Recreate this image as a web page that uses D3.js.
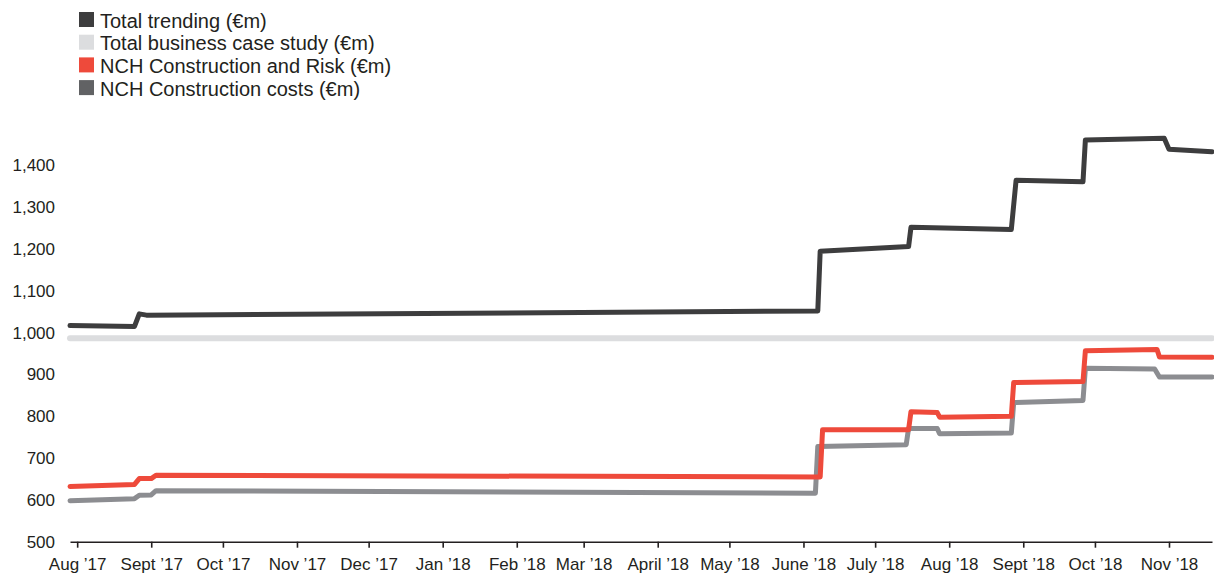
<!DOCTYPE html>
<html>
<head>
<meta charset="utf-8">
<script src="https://cdn.jsdelivr.net/npm/d3@7"></script>
<style>
  body { margin: 0; background: #fff; }
  text { font-family: "Liberation Sans", Arial, Helvetica, sans-serif; fill: #231f20; }
</style>
</head>
<body>
<svg id="chart" width="1214" height="578"></svg>
<script>
// series: [date, value in €m]
const totalTrending = [
    ["2017-07-29", 1017], ["2017-08-25", 1015], ["2017-08-27", 1045], ["2017-08-30", 1042],
    ["2018-06-07", 1052], ["2018-06-08", 1195], ["2018-07-15", 1206], ["2018-07-16", 1252],
    ["2018-08-27", 1247], ["2018-08-29", 1365], ["2018-09-26", 1361], ["2018-09-27", 1461],
    ["2018-10-30", 1465], ["2018-11-01", 1439], ["2018-11-19", 1433]
];
const businessCase = [["2017-07-29", 987], ["2018-11-19", 987]];
const constructionRisk = [
    ["2017-07-29", 632], ["2017-08-25", 637], ["2017-08-27", 651], ["2017-09-01", 651],
    ["2017-09-03", 659], ["2018-06-08", 655], ["2018-06-09", 768], ["2018-07-15", 768],
    ["2018-07-16", 811], ["2018-07-27", 809], ["2018-07-28", 798], ["2018-08-27", 800],
    ["2018-08-28", 881], ["2018-09-26", 883], ["2018-09-27", 957], ["2018-10-27", 960],
    ["2018-10-28", 942], ["2018-11-19", 941]
];
const constructionCosts = [
    ["2017-07-29", 598], ["2017-08-25", 603], ["2017-08-27", 611], ["2017-09-01", 612],
    ["2017-09-03", 622], ["2018-06-06", 616], ["2018-06-07", 728], ["2018-07-14", 732],
    ["2018-07-15", 771], ["2018-07-27", 771], ["2018-07-28", 758], ["2018-08-27", 760],
    ["2018-08-28", 833], ["2018-09-26", 838], ["2018-09-27", 915], ["2018-10-26", 913],
    ["2018-10-28", 894], ["2018-11-19", 894]
];

const tickMonths = ["2017-08-01", "2017-09-01", "2017-10-01", "2017-11-01", "2017-12-01",
    "2018-01-01", "2018-02-01", "2018-03-01", "2018-04-01", "2018-05-01", "2018-06-01",
    "2018-07-01", "2018-08-01", "2018-09-01", "2018-10-01", "2018-11-01"];
const monthLabels = ["Aug ’17", "Sept ’17", "Oct ’17", "Nov ’17", "Dec ’17", "Jan ’18",
    "Feb ’18", "Mar ’18", "April ’18", "May ’18", "June ’18", "July ’18", "Aug ’18",
    "Sept ’18", "Oct ’18", "Nov ’18"];
const yTicks = [500, 600, 700, 800, 900, 1000, 1100, 1200, 1300, 1400];

const legendNames = ["Total trending (€m)", "Total business case study (€m)",
    "NCH Construction and Risk (€m)", "NCH Construction costs (€m)"];
const legendColors = ["#3d3d3e", "#dcdddf", "#ee4a3b", "#616264"];

const parse = d3.timeParse("%Y-%m-%d");
const svg = d3.select("#chart");

const x = d3.scaleTime()
    .domain([parse("2017-07-29"), parse("2018-11-19")])
    .range([70, 1212]);
const y = d3.scaleLinear()
    .domain([500, 1400])
    .range([541.7, 165.5]);

// y labels (no axis line, no ticks)
const leftAxis = d3.axisLeft(y)
    .tickValues(yTicks)
    .tickSize(0)
    .tickPadding(0)
    .tickFormat(d3.format(","));
svg.append("g")
    .attr("transform", "translate(55,0)")
    .call(leftAxis)
    .call(g => g.select(".domain").remove())
    .call(g => g.selectAll("text").attr("font-size", 17).attr("font-family", null).attr("fill", "#231f20"));

// x axis
const bottomAxis = d3.axisBottom(x)
    .tickValues(tickMonths.map(parse))
    .tickSizeInner(6)
    .tickSizeOuter(0)
    .tickPadding(10)
    .tickFormat((d, i) => monthLabels[i]);
const xg = svg.append("g")
    .attr("transform", "translate(0,541.7)")
    .call(bottomAxis);
xg.select(".domain").attr("stroke", "#231f20").attr("stroke-width", 1.6);
xg.selectAll(".tick line").attr("stroke", "#231f20").attr("stroke-width", 1.6);
xg.selectAll("text").attr("font-size", 17).attr("font-family", null).attr("fill", "#231f20");

const lineGen = d3.line()
    .x(d => x(parse(d[0])))
    .y(d => y(d[1]));

const series = [
    { data: businessCase, color: "#dcdddf", width: 6 },
    { data: constructionCosts, color: "#8c8d91", width: 5 },
    { data: constructionRisk, color: "#ee4a3b", width: 5 },
    { data: totalTrending, color: "#3d3d3e", width: 5 }
];

svg.append("g").selectAll("path")
    .data(series)
    .join("path")
    .attr("fill", "none")
    .attr("stroke", d => d.color)
    .attr("stroke-width", d => d.width)
    .attr("stroke-linejoin", "round")
    .attr("stroke-linecap", "round")
    .attr("d", d => lineGen(d.data));

// legend
const legend = svg.append("g").attr("transform", "translate(79,12)");
const rows = legend.selectAll("g")
    .data(legendNames)
    .join("g")
    .attr("transform", (d, i) => `translate(0,${i * 22.7})`);
rows.append("rect")
    .attr("width", 15)
    .attr("height", 15)
    .attr("fill", (d, i) => legendColors[i]);
rows.append("text")
    .attr("x", 21)
    .attr("y", 15.5)
    .attr("font-size", 20)
    .text(d => d);
</script>
</body>
</html>
